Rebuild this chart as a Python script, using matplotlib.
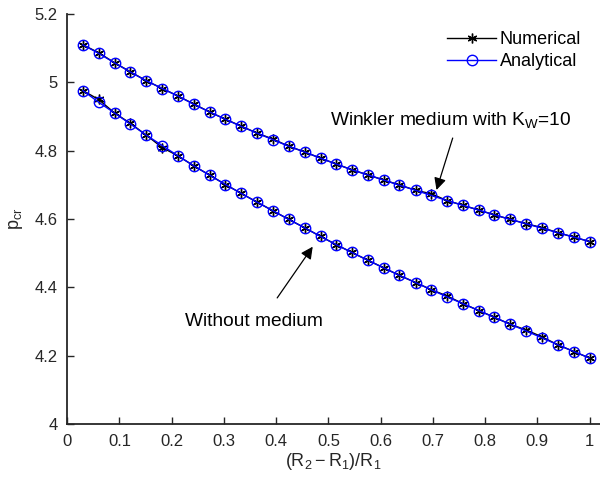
import matplotlib
matplotlib.use("Agg")
import matplotlib.pyplot as plt
from matplotlib.ticker import FuncFormatter

plt.rcParams["font.family"] = ["Liberation Sans", "DejaVu Sans"]
plt.rcParams["mathtext.fontset"] = "custom"
plt.rcParams["mathtext.rm"] = "Liberation Sans"
plt.rcParams["mathtext.it"] = "Liberation Sans"

# thickness ratio (R2-R1)/R1, 33 points from 0.03 to 1.0
ratio = [0.030, 0.060, 0.091, 0.121, 0.151, 0.182, 0.212, 0.242, 0.273, 0.303, 0.333,
         0.364, 0.394, 0.424, 0.455, 0.485, 0.515, 0.545, 0.576, 0.606, 0.636, 0.667,
         0.697, 0.727, 0.758, 0.788, 0.818, 0.848, 0.879, 0.909, 0.939, 0.970, 1.000]

# Winkler medium, K_W = 10
winkler_ana = [5.110, 5.085, 5.057, 5.030, 5.005, 4.982, 4.960, 4.936, 4.913, 4.892, 4.871,
               4.851, 4.832, 4.813, 4.796, 4.778, 4.761, 4.744, 4.729, 4.714, 4.699, 4.684,
               4.669, 4.654, 4.640, 4.626, 4.612, 4.599, 4.586, 4.573, 4.560, 4.547, 4.534]
winkler_num = [5.110, 5.087, 5.057, 5.031, 5.005, 4.982, 4.960, 4.937, 4.913, 4.892, 4.872,
               4.851, 4.834, 4.813, 4.796, 4.778, 4.761, 4.744, 4.729, 4.714, 4.700, 4.684,
               4.674, 4.654, 4.640, 4.626, 4.612, 4.599, 4.586, 4.575, 4.560, 4.547, 4.534]

# without medium
free_ana = [4.976, 4.942, 4.910, 4.878, 4.846, 4.815, 4.785, 4.756, 4.728, 4.701, 4.675,
            4.649, 4.624, 4.599, 4.574, 4.549, 4.525, 4.502, 4.479, 4.457, 4.435, 4.414,
            4.393, 4.372, 4.352, 4.332, 4.312, 4.292, 4.272, 4.252, 4.232, 4.212, 4.193]
free_num = [4.976, 4.950, 4.910, 4.880, 4.846, 4.809, 4.785, 4.756, 4.728, 4.701, 4.675,
            4.649, 4.624, 4.599, 4.574, 4.549, 4.525, 4.502, 4.479, 4.457, 4.435, 4.414,
            4.393, 4.375, 4.352, 4.332, 4.312, 4.292, 4.275, 4.255, 4.232, 4.212, 4.193]

xticks = [0, 0.1, 0.2, 0.3, 0.4, 0.5, 0.6, 0.7, 0.8, 0.9, 1.0]
yticks = [4.0, 4.2, 4.4, 4.6, 4.8, 5.0, 5.2]

axis_color = "#262626"
asterisk = (6, 2, 0)

fig = plt.figure(figsize=(6.0, 4.84), dpi=100)
ax = fig.add_axes([0.112, 0.124, 0.888, 0.847])

ax.plot(ratio, winkler_num, color="black", lw=1.0, marker=asterisk, ms=7, mew=1.0, label="Numerical")
ax.plot(ratio, winkler_ana, color="blue", lw=1.0, marker="o", ms=7.5, mfc="none", mew=1.0, label="Analytical")
ax.plot(ratio, free_num, color="black", lw=1.0, marker=asterisk, ms=7, mew=1.0)
ax.plot(ratio, free_ana, color="blue", lw=1.0, marker="o", ms=7.5, mfc="none", mew=1.0)

ax.set_xlim(0, 1.02)
ax.set_ylim(4.0, 5.2)
ax.set_xticks(xticks)
ax.set_yticks(yticks)
ax.xaxis.set_major_formatter(FuncFormatter(lambda v, p: f"{v:g}"))
ax.yaxis.set_major_formatter(FuncFormatter(lambda v, p: f"{v:g}"))

for side in ("top", "right"):
    ax.spines[side].set_visible(False)
for side in ("left", "bottom"):
    ax.spines[side].set_color(axis_color)
    ax.spines[side].set_linewidth(1.3)
ax.tick_params(direction="in", length=5, width=1.0, colors=axis_color, labelsize=12, pad=7)

ax.set_xlabel(r"$\mathregular{(R_2-R_1)/R_1}$", fontsize=13, color=axis_color, labelpad=2)
ax.set_ylabel(r"$\mathregular{p_{cr}}$", fontsize=13, color=axis_color, labelpad=7)

ax.legend(loc="upper right", bbox_to_anchor=(0.985, 0.985), frameon=False, fontsize=13,
          handlelength=2.7, borderaxespad=0.2, labelspacing=0.3, handletextpad=0.2)

arrow = dict(arrowstyle="-|>", color="black", lw=0.9, mutation_scale=18, shrinkA=0, shrinkB=0)
ax.annotate("", xy=(0.707, 4.685), xytext=(0.738, 4.837), arrowprops=arrow)
ax.text(0.503, 4.89, r"Winkler medium with $\mathregular{K_W}$=10", fontsize=13.8,
        ha="left", va="center")
ax.annotate("", xy=(0.47, 4.519), xytext=(0.402, 4.369), arrowprops=arrow)
ax.text(0.226, 4.299, "Without medium", fontsize=13.8, ha="left", va="center")

fig.savefig("out.png", dpi=100)
